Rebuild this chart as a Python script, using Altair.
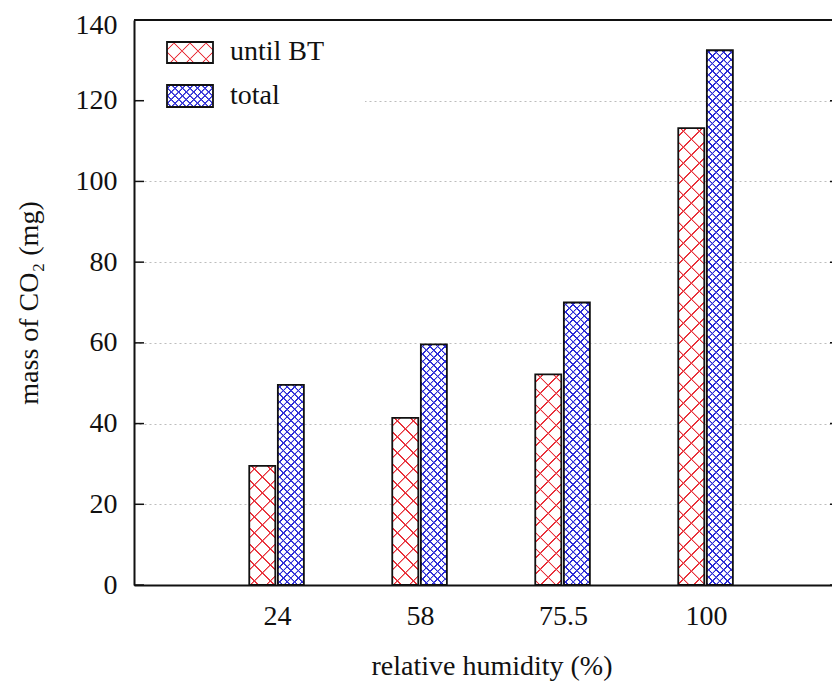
import json
import altair as alt
import pandas as pd

# ---------------- data ----------------
rh_labels = ["24", "58", "75.5", "100"]
series_names = ["until BT", "total"]
until_bt = [29.5, 41.4, 52.2, 113.2]
total = [49.6, 59.6, 70.0, 132.5]
y_ticks = [0, 20, 40, 60, 80, 100, 120, 140]

# ---------------- layout / style ----------------
W, H = 698, 565
PX_X = 143.0                     # pixels per cluster
X_MIN = -1.0
X_MAX = X_MIN + W / PX_X
Y_MAX = 140.0
PX_Y = H / Y_MAX
BAR_LEFT = {"until BT": -0.194, "total": 0.006}
BAR_W = 0.182
COLORS = {"until BT": "#e8303a", "total": "#2a2ad6"}
PERIOD = {"until BT": 16.0, "total": 7.5}
FONT = "Liberation Serif"
INK = "#111111"
TRANSP = "rgba(255,255,255,0)"


def hatch(w, h, period, color, direction, lw=1.3, soft=0.6):
    L = w + h
    s = L / (w * w + h * h)
    if direction == "a":
        x1, y1, x2, y2 = 0, 0, s * w, s * h
    else:
        x1, y1, x2, y2 = 1, 0, 1 - s * w, s * h
    stops = [(0.0, TRANSP)]
    c = period / 2
    while c - lw / 2 - soft < L:
        for pos, col in [(c - lw / 2 - soft, TRANSP), (c - lw / 2, color),
                         (c + lw / 2, color), (c + lw / 2 + soft, TRANSP)]:
            p = min(max(pos, 0.0), L)
            stops.append((p / L, col))
        c += period
    stops.append((1.0, TRANSP))
    return {"gradient": "linear", "x1": x1, "y1": y1, "x2": x2, "y2": y2,
            "stops": [{"offset": round(o, 6), "color": col} for o, col in stops]}


rows = []
for i, lab in enumerate(rh_labels):
    rows.append({"idx": i, "rh": lab, "series": "until BT", "value": until_bt[i]})
    rows.append({"idx": i, "rh": lab, "series": "total", "value": total[i]})
df = pd.DataFrame(rows)
tick_df = pd.DataFrame({"t": y_ticks})
one = pd.DataFrame({"k": [0]})

xscale = alt.Scale(domain=[X_MIN, X_MAX], nice=False, zero=False)
yscale = alt.Scale(domain=[0, Y_MAX], nice=False, zero=False)
label_expr = json.dumps(rh_labels) + "[datum.value]"
xaxis = alt.Axis(values=[0, 1, 2, 3], labelExpr=label_expr, title="relative humidity (%)",
                 grid=False, ticks=False, tickSize=0, labelPadding=17,
                 labelBaseline="top", domain=True, domainColor=INK, domainWidth=2,
                 titleY=89, titleX=(0 - X_MIN) * PX_X + 2.5 * PX_X - PX_X,
                 titleBaseline="alphabetic", titleAlign="center")
yaxis = alt.Axis(values=y_ticks, title="mass of CO₂ (mg)", grid=True, gridColor="#bdbdbd",
                 gridDash=[2, 3], gridWidth=1, ticks=False, tickSize=0, labelPadding=17,
                 labelOffset={"condition": {"test": f"datum.value == {y_ticks[-1]}", "value": 5},
                              "value": 0},
                 domain=True, domainColor=INK, domainWidth=2,
                 titleX=-97, titleY=H / 2, titleAngle=270, titleBaseline="alphabetic",
                 titleAlign="center")

base = alt.Chart(df).transform_calculate(
    x0=f"datum.idx + (datum.series == 'until BT' ? {BAR_LEFT['until BT']} : {BAR_LEFT['total']})"
).transform_calculate(
    x1=f"datum.x0 + {BAR_W}"
)
enc = dict(
    x=alt.X("x0:Q", scale=xscale, axis=xaxis),
    x2="x1:Q",
    y=alt.Y("value:Q", scale=yscale, axis=yaxis),
    y2=alt.datum(0),
)

layers = []
# legend background (opaque key box)
layers.append(alt.Chart(one).mark_rect(fill="white").encode(
    x=alt.value(2), x2=alt.value(231), y=alt.value(2), y2=alt.value(100)))
# white bar bodies
layers.append(base.mark_rect(fill="white").encode(**enc))
# hatching, one gradient per bar and direction
bw_px = BAR_W * PX_X
for s_name, vals in [("until BT", until_bt), ("total", total)]:
    for i, v in enumerate(vals):
        h_px = v * PX_Y
        for d in ("a", "b"):
            g = hatch(bw_px, h_px, PERIOD[s_name], COLORS[s_name], d)
            layers.append(
                base.transform_filter(f"datum.idx == {i} && datum.series == '{s_name}'")
                .mark_rect(fill=g).encode(**enc))
# bar outlines
layers.append(base.mark_rect(fill="transparent", stroke=INK, strokeWidth=1.8).encode(**enc))
# inward ticks (left and mirrored right)
layers.append(alt.Chart(tick_df).mark_rule(color=INK, strokeWidth=1.5).encode(
    y=alt.Y("t:Q", scale=yscale, axis=yaxis), x=alt.value(0), x2=alt.value(10)))
layers.append(alt.Chart(tick_df).mark_rule(color=INK, strokeWidth=1.5).encode(
    y=alt.Y("t:Q", scale=yscale, axis=yaxis), x=alt.value(W - 2), x2=alt.value(W)))
# top border
layers.append(alt.Chart(one).mark_rule(color=INK, strokeWidth=2).encode(
    x=alt.value(0), x2=alt.value(W), y=alt.value(0)))
# legend
legend_y = {"until BT": (22, 43, 32), "total": (65, 87, 76)}
for s_name in series_names:
    y0, y1, yt = legend_y[s_name]
    sw, sh = 46, y1 - y0
    layers.append(alt.Chart(one).mark_rect(fill="white").encode(
        x=alt.value(33), x2=alt.value(79), y=alt.value(y0), y2=alt.value(y1)))
    for d in ("a", "b"):
        layers.append(alt.Chart(one).mark_rect(
            fill=hatch(sw, sh, PERIOD[s_name], COLORS[s_name], d)).encode(
            x=alt.value(33), x2=alt.value(79), y=alt.value(y0), y2=alt.value(y1)))
    layers.append(alt.Chart(one).mark_rect(fill="transparent", stroke=INK, strokeWidth=1.8).encode(
        x=alt.value(33), x2=alt.value(79), y=alt.value(y0), y2=alt.value(y1)))
    layers.append(alt.Chart(one).mark_text(
        align="left", baseline="middle", font=FONT, fontSize=28, color=INK).encode(
        x=alt.value(96), y=alt.value(yt), text=alt.value(s_name)))

chart = alt.layer(*layers).properties(
    width=W, height=H,
    autosize=alt.AutoSizeParams(type="none"),
    padding={"left": 126, "top": 12, "right": 0, "bottom": 96},
).configure_view(stroke=None).configure_axis(
    labelFont=FONT, labelFontSize=28, labelColor=INK,
    titleFont=FONT, titleFontSize=28, titleColor=INK, titleFontWeight="normal",
)

chart.save("out.html", embed_options={"renderer": "svg", "actions": False})
